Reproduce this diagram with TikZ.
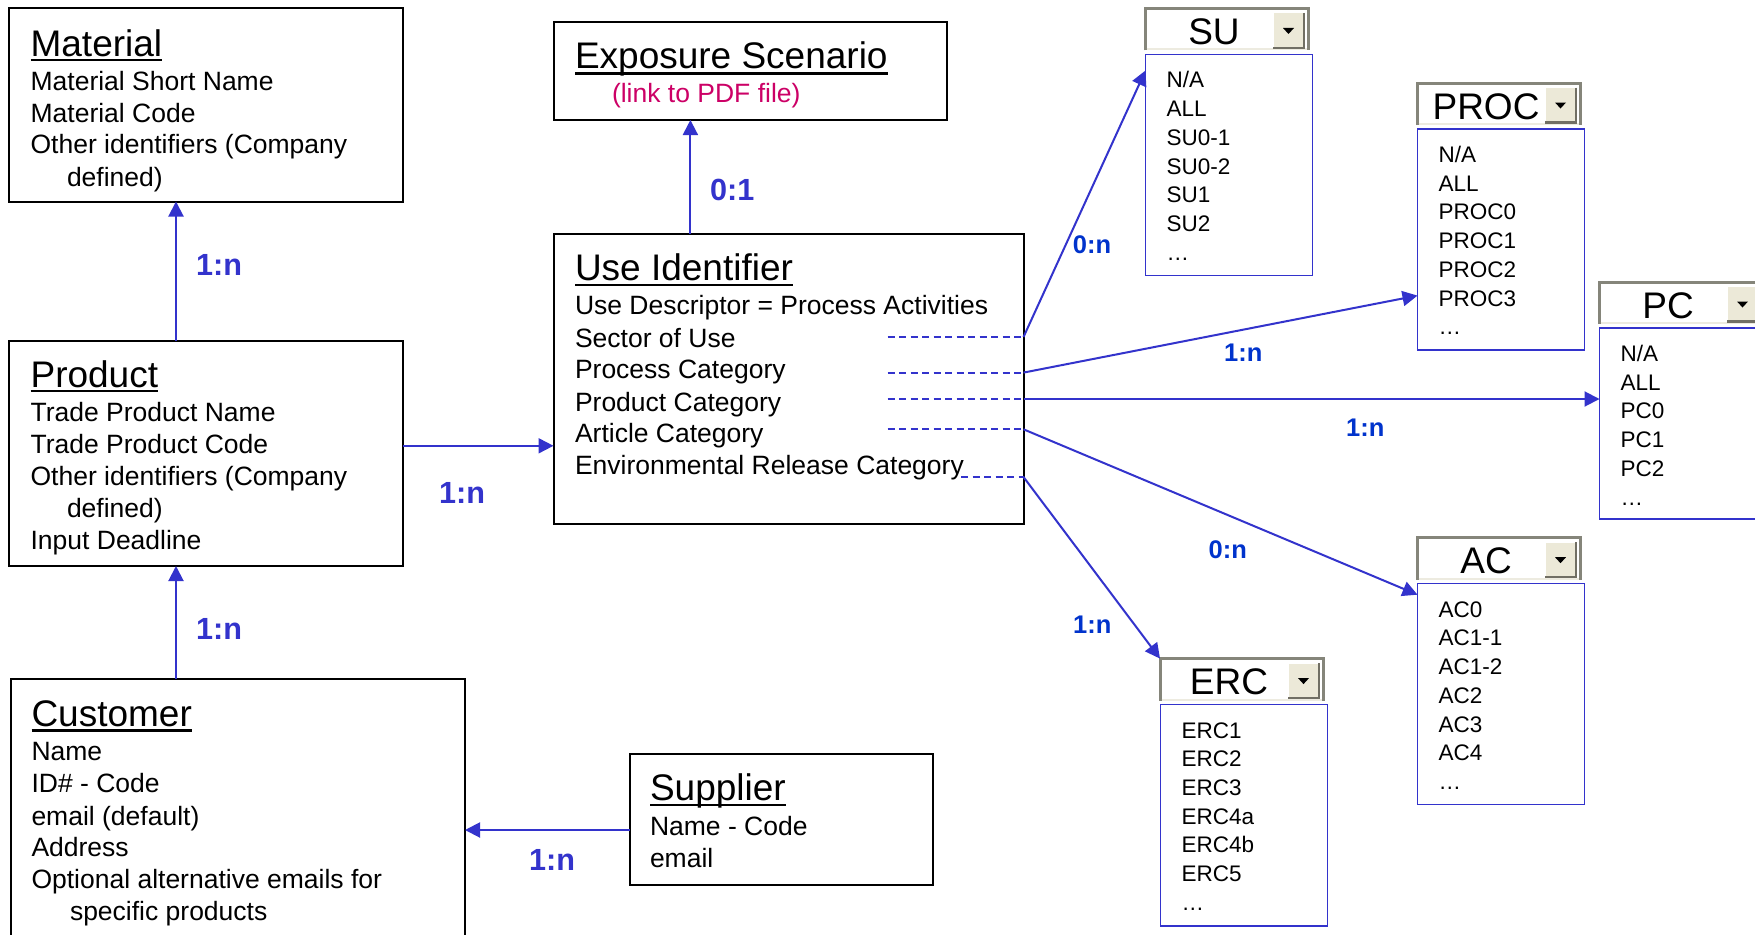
\documentclass[tikz,border=0pt]{standalone}
\usepackage{fontspec}
\setmainfont{Liberation Sans}
\usetikzlibrary{arrows.meta}
\definecolor{lnblue}{HTML}{3333CC}
\definecolor{lbblue}{HTML}{0033CC}
\definecolor{linkred}{HTML}{CC0066}
\definecolor{ddgray}{HTML}{85857A}
\definecolor{ddlight}{HTML}{EDEBE0}
\definecolor{btnfill}{HTML}{ECE9D8}
\definecolor{btndark}{HTML}{716F64}
\newcommand\fsz[2]{\fontsize{#1}{#2}\selectfont}
\tikzset{
  ebox/.style={draw=black, line width=2pt, anchor=north west, inner sep=0pt, outer sep=0pt, fill=white},
  ttl/.style={anchor=base west, inner sep=0pt, outer sep=0pt, font=\fsz{37}{40}},
  txt/.style={anchor=base west, inner sep=0pt, outer sep=0pt, font=\fsz{26.5}{32}},
  uln/.style={line width=2.5pt, black},
  arr/.style={draw=lnblue, line width=2pt, -{Triangle[length=15pt,width=15pt]}},
  dsh/.style={draw=lnblue, line width=1.8pt, dash pattern=on 7pt off 4.5pt},
  lblL/.style={anchor=base west, inner sep=0pt, font=\fsz{30.6}{34}\bfseries, text=lnblue},
  lblR/.style={anchor=base west, inner sep=0pt, font=\fsz{25.5}{30}\bfseries, text=lbblue},
  ddhead/.style={anchor=north west, minimum width=163pt, minimum height=42pt, inner sep=0pt, outer sep=0pt, fill=white},
  ddbtn/.style={anchor=north east, minimum width=31pt, minimum height=35pt, inner sep=0pt, outer sep=0pt, fill=btnfill},
  ddlist/.style={draw=lnblue, line width=1.5pt, anchor=north west, inner sep=0pt, outer sep=0pt, minimum width=167pt, fill=white},
  dditem/.style={anchor=base west, inner sep=0pt, outer sep=0pt, font=\fsz{22.5}{28}},
  ddttl/.style={anchor=base, inner sep=0pt, outer sep=0pt, font=\fsz{37}{40}},
}
% #1 name, #2 x, #3 y, #4 title, #5 list height, #6 items
\newcommand\ddbox[6]{%
  \node[ddhead] (#1) at (#2,#3) {};
  \draw[ddgray, line width=3pt] (#1.south west) -- (#1.north west) -- (#1.north east) -- (#1.south east);
  \draw[ddlight, line width=2pt] ([xshift=1.5pt,yshift=1pt]#1.south west) -- ([xshift=-1.5pt,yshift=1pt]#1.south east);
  \node[ddbtn] (#1b) at ([xshift=-4pt,yshift=-4.5pt]#1.north east) {};
  \draw[white, line width=1pt] (#1b.south west) -- (#1b.north west) -- (#1b.north east);
  \draw[btndark, line width=2.5pt] (#1b.north east) -- (#1b.south east) -- (#1b.south west);
  \fill[black] ([xshift=-5.5pt,yshift=2.5pt]#1b.center) -- ([xshift=5.5pt,yshift=2.5pt]#1b.center) -- ([yshift=-3.5pt]#1b.center) -- cycle;
  \node[ddttl] (#1t) at ([xshift=69pt,yshift=-36pt]#1.north west) {#4};
  \node[ddlist, minimum height=#5] (#1l) at ([xshift=0.5pt,yshift=-46pt]#1.north west) {};
  \foreach \itm [count=\i] in {#6}
    \node[dditem] (#1i\i) at ([xshift=21pt,yshift={-33.5pt-(\i-1)*28.7pt}]#1l.north west) {\itm};
}
\begin{document}
\begin{tikzpicture}[x=1pt,y=-1pt]
\useasboundingbox (0,0) rectangle (1755,934);
\fill[white] (0,0) rectangle (1755,934);

% ---------- boxes ----------
\node[ebox, minimum width=394pt, minimum height=193.5pt] (mat) at (9,8) {};
\node[ebox, minimum width=394pt, minimum height=225.4pt] (prod) at (9,340.6) {};
\node[ebox, minimum width=454pt, minimum height=270pt] (cust) at (11,679) {};
\node[ebox, minimum width=303pt, minimum height=131pt] (sup) at (630,754) {};
\node[ebox, minimum width=393.5pt, minimum height=97.6pt] (exp) at (553.5,22.4) {};
\node[ebox, minimum width=470pt, minimum height=290pt] (use) at (553.5,234) {};

% ---------- Material ----------
\node[ttl] (matT) at (30.6,56.6) {Material};
\draw[uln] ([yshift=-3.5pt]matT.base west) -- ([yshift=-3.5pt]matT.base east);
\node[txt] (mat1) at (30.6,90) {Material Short Name};
\node[txt] (mat2) at (30.6,122) {Material Code};
\node[txt] (mat3) at (30.6,153.5) {Other identifiers (Company};
\node[txt] (mat4) at (67,186) {defined)};

% ---------- Product ----------
\node[ttl] (prodT) at (30.6,387.7) {Product};
\draw[uln] ([yshift=-3.5pt]prodT.base west) -- ([yshift=-3.5pt]prodT.base east);
\node[txt] (prod1) at (30.6,421) {Trade Product Name};
\node[txt] (prod2) at (30.6,453.5) {Trade Product Code};
\node[txt] (prod3) at (30.6,485) {Other identifiers (Company};
\node[txt] (prod4) at (67,517) {defined)};
\node[txt] (prod5) at (30.6,549) {Input Deadline};

% ---------- Customer ----------
\node[ttl] (custT) at (31.5,726.7) {Customer};
\draw[uln] ([yshift=-4pt]custT.base west) -- ([yshift=-4pt]custT.base east);
\node[txt] (cust1) at (31.5,760.7) {Name};
\node[txt] (cust2) at (31.5,792.7) {ID\# - Code};
\node[txt] (cust3) at (31.5,825) {email (default)};
\node[txt] (cust4) at (31.5,856.7) {Address};
\node[txt] (cust5) at (31.5,888) {Optional alternative emails for};
\node[txt] (cust6) at (70,920) {specific products};

% ---------- Supplier ----------
\node[ttl] (supT) at (650,800) {Supplier};
\draw[uln] ([yshift=-5pt]supT.base west) -- ([yshift=-5pt]supT.base east);
\node[txt] (sup1) at (650,835) {Name - Code};
\node[txt] (sup2) at (650,867) {email};

% ---------- Exposure Scenario ----------
\node[ttl] (expT) at (575,68.8) {Exposure Scenario};
\draw[uln] ([yshift=-4.5pt]expT.base west) -- ([yshift=-4.5pt]expT.base east);
\node[txt, text=linkred] (exp1) at (612,102.5) {(link to PDF file)};

% ---------- Use Identifier ----------
\node[ttl] (useT) at (575,280) {Use Identifier};
\draw[uln] ([yshift=-5pt]useT.base west) -- ([yshift=-5pt]useT.base east);
\node[txt] (use1) at (575,314.8) {Use Descriptor = Process Activities};
\node[txt] (use2) at (575,347.4) {Sector of Use};
\node[txt] (use3) at (575,378.4) {Process Category};
\node[txt] (use4) at (575,411) {Product Category};
\node[txt] (use5) at (575,442) {Article Category};
\node[txt] (use6) at (575,474.7) {Environmental Release Category};

% dashed leaders and ports
\coordinate (psec) at (1023.5,337);
\coordinate (ppro) at (1023.5,372.6);
\coordinate (pprd) at (1023.5,399);
\coordinate (part) at (1023.5,429.3);
\coordinate (perc) at (1023.5,477);
\coordinate (dx) at (887.5,0);
\coordinate (dxe) at (961,0);
\draw[dsh] (psec -| dx) -- (psec);
\draw[dsh] (ppro -| dx) -- (ppro);
\draw[dsh] (pprd -| dx) -- (pprd);
\draw[dsh] (part -| dx) -- (part);
\draw[dsh] (perc -| dxe) -- (perc);

% ---------- dropdowns ----------
\ddbox{su}{1145}{8.5}{SU}{221pt}{N/A,ALL,SU0-1,SU0-2,SU1,SU2,…}
\ddbox{proc}{1417}{83}{PROC}{221pt}{N/A,ALL,PROC0,PROC1,PROC2,PROC3,…}
\ddbox{pc}{1599}{282}{PC}{191pt}{N/A,ALL,PC0,PC1,PC2,…}
\ddbox{ac}{1417}{537.7}{AC}{221pt}{AC0,AC1-1,AC1-2,AC2,AC3,AC4,…}
\ddbox{erc}{1160}{658.6}{ERC}{221.6pt}{ERC1,ERC2,ERC3,ERC4a,ERC4b,ERC5,…}

% ---------- connectors ----------
\coordinate (cx) at (176,0);
\coordinate (ex) at (690.4,0);
\coordinate (pu) at (0,445.8);
\coordinate (sy) at (0,830);
\draw[arr] (prod.north -| cx) -- (mat.south -| cx);
\draw[arr] (cust.north -| cx) -- (prod.south -| cx);
\draw[arr] (use.north -| ex) -- (exp.south -| ex);
\draw[arr] (prod.east |- pu) -- (use.west |- pu);
\draw[arr] (sup.west |- sy) -- (cust.east |- sy);

\draw[arr] (psec) -- ([yshift=-16pt]sul.north west);
\draw[arr] (ppro) -- ([yshift=-166.6pt]procl.north west);
\draw[arr] (pprd) -- (pprd -| pcl.west);
\draw[arr] (part) -- ([yshift=-11pt]acl.north west);
\draw[arr] (perc) -- (erc.north west);

% ---------- labels ----------
\node[lblL] (l1) at (196,275.6) {1:n};
\node[lblL] (l2) at (439,503) {1:n};
\node[lblL] (l3) at (196,639) {1:n};
\node[lblL] (l4) at (529,870) {1:n};
\node[lblL] (l5) at (710,200) {0:1};
\node[lblR] (r1) at (1072.7,253.3) {0:n};
\node[lblR] (r2) at (1224,361) {1:n};
\node[lblR] (r3) at (1346,436) {1:n};
\node[lblR] (r4) at (1208.5,558) {0:n};
\node[lblR] (r5) at (1073,633.5) {1:n};
\end{tikzpicture}
\end{document}
